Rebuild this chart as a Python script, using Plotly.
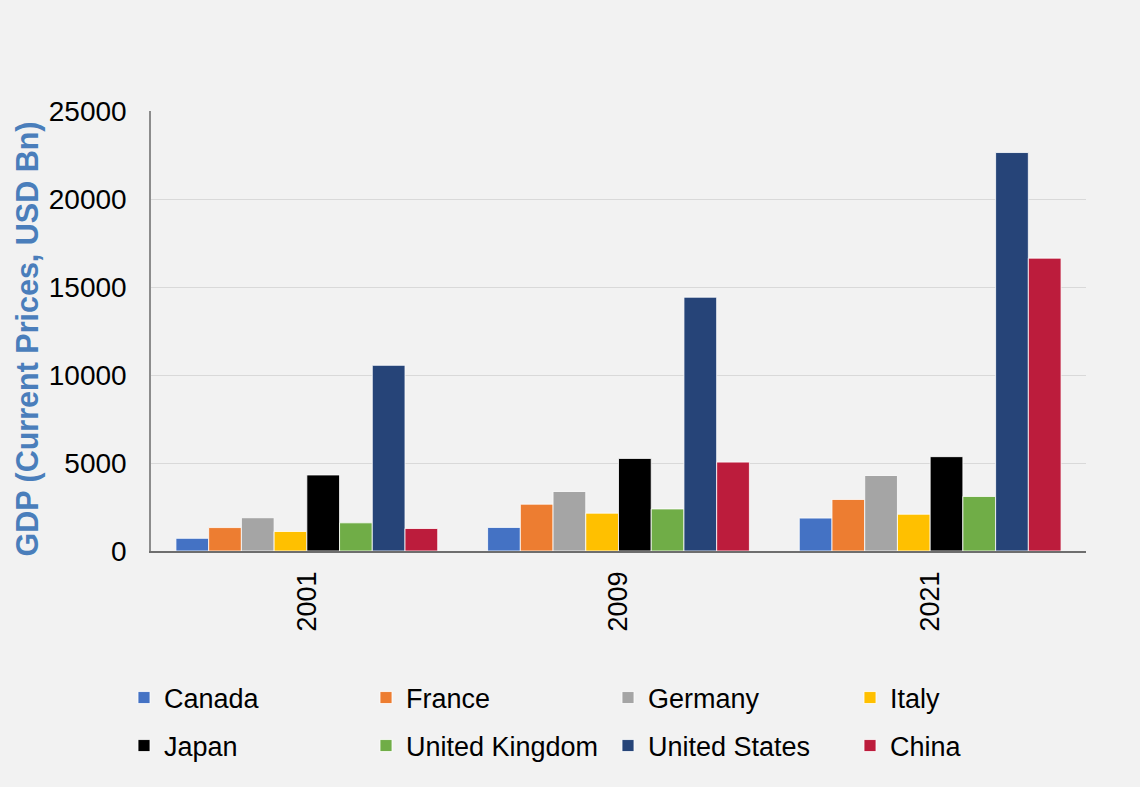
import plotly.graph_objects as go

years = ["2001", "2009", "2021"]
countries = ["Canada", "France", "Germany", "Italy", "Japan",
             "United Kingdom", "United States", "China"]
canada = [720, 1340, 1870]
france = [1330, 2660, 2930]
germany = [1890, 3380, 4290]
italy = [1110, 2150, 2090]
japan = [4320, 5260, 5360]
uk = [1600, 2390, 3100]
us = [10550, 14420, 22640]
china = [1280, 5050, 16640]
series = [canada, france, germany, italy, japan, uk, us, china]
colors = ["#4472C4", "#ED7D31", "#A5A5A5", "#FFC000", "#000000",
          "#70AD47", "#264478", "#BC1C3C"]
y_ticks = [0, 5000, 10000, 15000, 20000, 25000]
y_ticktext = ["0", "5000", "10000", "15000", "20000", "25000"]

FONT = "Liberation Sans, Arial, sans-serif"
W, H = 1140, 787
L, R, T, B = 151, 54, 111, 236

fig = go.Figure()
legend_layouts = {}
for i, (name, vals, col) in enumerate(zip(countries, series, colors)):
    lid = "legend" if i == 0 else f"legend{i + 1}"
    fig.add_trace(go.Bar(
        x=years, y=vals, name=name,
        marker=dict(color=col, line=dict(color="#FFFFFF", width=0.8)),
        legend=lid,
    ))
    col_i, row_i = i % 4, i // 4
    legend_layouts[lid] = dict(
        orientation="h", xref="container", yref="container",
        xanchor="left", yanchor="middle",
        x=(124 + 242 * col_i) / W,
        y=1 - (698 + 48 * row_i) / H,
        font=dict(family=FONT, size=27, color="#000000"),
        bgcolor="rgba(0,0,0,0)", borderwidth=0,
        itemclick=False, itemdoubleclick=False,
    )

fig.update_layout(
    width=W, height=H,
    margin=dict(l=L, r=R, t=T, b=B, pad=0),
    paper_bgcolor="#F2F2F2", plot_bgcolor="#F2F2F2",
    barmode="group", bargap=0.16, bargroupgap=0,
    font=dict(family=FONT, color="#000000"),
    showlegend=True,
    xaxis=dict(
        type="category", tickangle=-90,
        tickfont=dict(family=FONT, size=27, color="#000000"),
        showline=True, linecolor="#6E6E6E", linewidth=1.5,
        ticks="", showgrid=False, ticklabelstandoff=8,
    ),
    yaxis=dict(
        range=[0, 25000], tickvals=y_ticks, ticktext=y_ticktext,
        tickfont=dict(family=FONT, size=28, color="#000000"),
        showline=True, linecolor="#8C8C8C", linewidth=1.5,
        showgrid=True, gridcolor="#D9D9D9", gridwidth=1.3,
        zeroline=False, ticks="", ticklabelstandoff=17,
    ),
    annotations=[dict(
        text="<b>GDP (Current Prices, USD Bn)</b>",
        xref="paper", yref="paper",
        x=(27 - L) / (W - L - R), y=(551 - 339.5) / (H - T - B),
        xanchor="center", yanchor="middle", textangle=-90,
        showarrow=False,
        font=dict(family=FONT, size=30.5, color="#4A7EBB"),
    )],
    **legend_layouts,
)

fig.write_html("out.html")
